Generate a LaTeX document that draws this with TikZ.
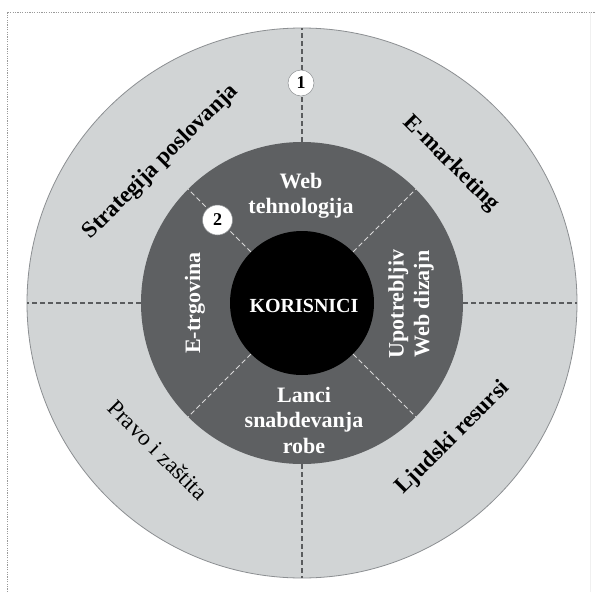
\documentclass[tikz,border=0pt]{standalone}
\usepackage{fontspec}
\setmainfont{Liberation Serif}
\definecolor{ringlight}{HTML}{D1D4D5}
\definecolor{ringdark}{HTML}{5E6062}
\definecolor{ringedge}{HTML}{8C8F92}
\definecolor{outerdash}{HTML}{5A5C5E}
\definecolor{innerdash}{HTML}{D8D8D8}
\definecolor{framegray}{HTML}{9A9A9A}
\tikzset{
  ringtext/.style={text=white, font=\bfseries\fontsize{22}{25.5}\selectfont, align=center, inner sep=0pt},
  outertext/.style={text=black, font=\bfseries\fontsize{23}{27}\selectfont, inner sep=0pt},
  outerplain/.style={text=black, font=\fontsize{23}{27}\selectfont, inner sep=0pt},
  numbadge/.style={circle, fill=white, draw=ringedge, line width=0.5pt, inner sep=0pt, font=\bfseries\fontsize{18}{18}\selectfont},
  outerline/.style={draw=outerdash, line width=1.2pt, dash pattern=on 5pt off 3pt},
  innerline/.style={draw=innerdash, line width=1pt, dash pattern=on 5pt off 3pt},
  framedot/.style={draw=framegray, line width=0.8pt, dash pattern=on 1.2pt off 1.2pt},
}
\begin{document}
\begin{tikzpicture}[x=1pt,y=-1pt]
\useasboundingbox (0,0) rectangle (595,592);
\fill[white] (0,0) rectangle (595,592);
% frame
\coordinate (f1) at (7,592);
\coordinate (f2) at (7,12);
\coordinate (f3) at (595,12);
\draw[framedot] (f1) -- (f2) -- (f3);
\coordinate (r1) at (590,12);
\coordinate (r2) at (590,592);
\draw[draw=black!6, line width=0.6pt] (r1) -- (r2);
% circles
\coordinate (C) at (302,303);
\node[circle, fill=ringlight, draw=ringedge, line width=0.8pt, minimum size=550pt, inner sep=0pt] (outer) at (C) {};
\node[circle, fill=ringdark, minimum size=322pt, inner sep=0pt] (mid) at (C) {};
\node[circle, fill=black, minimum size=144pt, inner sep=0pt] (core) at (C) {};
% dashed dividers in outer ring
\draw[outerline] (mid.90) -- (outer.90);
\draw[outerline] (mid.270) -- (outer.270);
\draw[outerline] (mid.0) -- (outer.0);
\draw[outerline] (mid.180) -- (outer.180);
% dashed dividers in dark ring
\draw[innerline] (core.45) -- (mid.45);
\draw[innerline] (core.135) -- (mid.135);
\draw[innerline] (core.225) -- (mid.225);
\draw[innerline] (core.315) -- (mid.315);
% badges
\node[numbadge, minimum size=26pt] (b1) at (301,83) {1};
\node[numbadge, minimum size=30pt] (b2) at (217.5,220) {2};
% centre
\node[text=white, font=\bfseries\fontsize{20}{20}\selectfont, inner sep=0pt] (kor) at (304,306) {KORISNICI};
% dark ring texts
\node[ringtext] (web) at (301,196) {Web\\tehnologija};
\node[ringtext] (lanci) at (304,420) {Lanci\\snabdevanja\\robe};
\node[ringtext, rotate=90] (etrg) at (195,303) {E-trgovina};
\node[ringtext, rotate=90] (upo) at (411,304) {Upotrebljiv\\Web dizajn};
% outer ring texts
\node[outertext, rotate=45] (strat) at (161,162) {Strategija poslovanja};
\node[outertext, rotate=-45] (emark) at (451,164) {E-marketing};
\node[outerplain, rotate=-45] (pravo) at (158,450) {Pravo i zaštita};
\node[outertext, rotate=45] (ljud) at (453,438) {Ljudski resursi};
\end{tikzpicture}
\end{document}
